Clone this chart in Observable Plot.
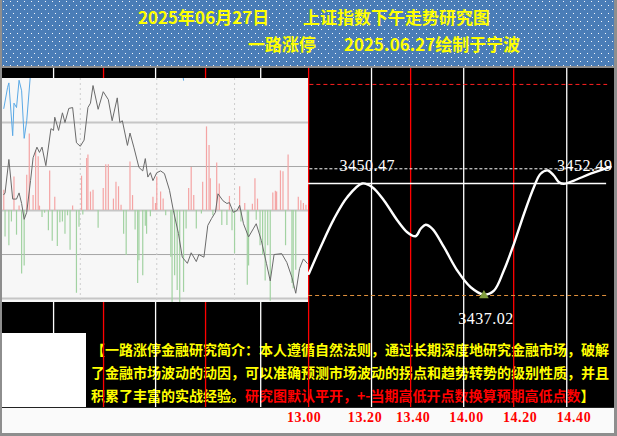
<!DOCTYPE html>
<html><head><meta charset="utf-8">
<script src="https://cdn.jsdelivr.net/npm/d3@7"></script>
<script src="https://cdn.jsdelivr.net/npm/@observablehq/plot@0.6"></script>
<style>
html,body{margin:0;padding:0;background:#000;}
#chart{position:relative;width:617px;height:436px;background:#8e8e8e;overflow:hidden;font-family:"Noto Sans CJK SC",sans-serif;}
#banner{position:absolute;left:2px;top:0;width:612px;height:66px;background-color:#4a7db7;}
.bt{position:absolute;color:#ffff00;font-weight:bold;font-size:17px;line-height:20px;white-space:nowrap;}
#inner{position:absolute;left:2px;top:68px;width:612px;height:365px;background:#000;}
#intro{position:absolute;left:91px;top:338px;font-size:14px;font-weight:bold;line-height:23px;color:#ffff00;white-space:nowrap;z-index:1;}
#intro .r{color:#ff0000;}
#main{position:absolute;left:0;top:68px;width:617px;height:339px;z-index:2;}
#left{position:absolute;left:2px;top:78px;width:306px;height:224px;z-index:3;}
#box{position:absolute;left:2px;top:333px;width:84px;height:74px;background:#fff;z-index:3;}
#stripbg{position:absolute;left:2px;top:407px;width:612px;height:26px;background:#fafafa;border-top:1px solid #222;box-sizing:border-box;z-index:4;}
#strip{position:absolute;left:0;top:407px;width:617px;height:26px;z-index:5;}
#main svg text{letter-spacing:0.5px;}
#strip svg text{letter-spacing:0.6px;}
</style>
</head>
<body>
<div id="chart">
  <div id="banner">
    <div class="bt" style="left:136px;top:7px;">2025年06月27日</div>
    <div class="bt" style="left:301px;top:7px;">上证指数下午走势研究图</div>
    <div class="bt" style="left:246px;top:34px;">一路涨停</div>
    <div class="bt" style="left:342px;top:34px;">2025.06.27绘制于宁波</div>
  </div>
  <div id="inner"></div>
  <div id="intro">【一路涨停金融研究简介：本人遵循自然法则，通过长期深度地研究金融市场，破解<br>了金融市场波动的动因，可以准确预测市场波动的拐点和趋势转势的级别性质，并且<br>积累了丰富的实战经验。<span class="r">研究图默认平开，+-当期高低开点数换算预期高低点数</span>】</div>
  <div id="main"></div>
  <div id="left"></div>
  <div id="box"></div>
  <div id="stripbg"></div>
  <div id="strip"></div>
</div>
<script>
// ---------- data: left intraday panel (minute index 0..240, value relative to previous close) ----------
const priceMin = [1,2,5,8,11,13,15,17,19,22,24,27,29,31,34,38,40,41,44,47,49,52,55,58,61,64,67,69,71,75,79,83,86,90,92,94,98,100,103,107,110,112,114,116,118,121,124,127,131,134,138,141,145,148,152,154,158,161,164,167,169,173,176,178,181,184,186,189,193,197,199,203,207,210,213,219,223,227,230,233,236,239];
const priceVal = [18,20,58,13,13,20,8,-10,-2,34,60,72,66,72,51,93,91,106,91,111,100,116,117,77,73,80,117,122,142,115,135,126,102,128,100,102,74,88,72,49,45,59,38,43,34,43,45,42,23,0,-26,-53,-60,-48,-58,-50,-53,-17,-9,-2,19,11,8,9,-2,0,6,-15,-30,-20,-15,-34,-60,-80,-50,-49,-59,-76,-94,-66,-55,-60];
const blueMin = [1,4,5,8,9,11,13,15,17,19,22];
const blueVal = [116,140,145,85,122,117,148,136,82,102,156];
const blue2Min = [141,142];
const blue2Val = [158,148];
const upMin = [1,9,13,19,21,24,26,28,29,37,41,55,62,66,67,69,71,79,81,83,87,89,91,93,100,102,118,120,121,124,126,146,148,150,157,160,162,163,168,170,178,186,190,196,198,200,212,214,215,218,220,224,232,234,236,238];
const upVal = [23,38,5,40,87,17,68,61,5,45,15,5,39,59,63,21,23,25,52,52,13,32,27,6,55,17,15,8,38,21,13,25,49,17,32,95,74,36,54,30,16,27,8,7,36,13,20,22,21,45,44,63,15,11,8,6];
const downMin = [2,5,7,11,15,17,31,33,36,39,43,45,47,49,51,53,58,60,63,75,95,97,104,106,107,110,112,113,116,128,132,133,135,137,139,142,144,152,156,165,172,176,180,182,187,192,193,199,202,204,206,208,210,222,227,228,230];
const downVal = [-30,-40,-13,-28,-72,-63,-8,-3,-23,-35,-41,-14,-13,-27,-6,-45,-94,-19,-5,-20,-27,-51,-22,-83,-57,-74,-18,-27,-7,-6,-53,-106,-74,-91,-106,-93,-21,-21,-4,-6,-17,-17,-23,-49,-13,-85,-63,-11,-40,-51,-80,-40,-103,-40,-83,-89,-68];
const majorGrid = [100, 0, -100];
const minorGrid = [50, -50];
const sessionMin = [61, 121, 182];

// ---------- data: right forecast panel (minutes after 13:00, index points) ----------
const forecastMin = [0.1,4.6,9.8,14.9,20.7,24.6,29.1,34.3,38.1,41.3,43.3,45.2,47.8,52.3,57.4,62.6,67.7,71.6,75.4,79.3,83.2,87.0,89.6,92.4,94.7,96.7,98.6,102.5,108.9,116.6];
const forecastVal = [3439.53,3442.75,3446.19,3448.81,3450.47,3450.02,3448.41,3445.99,3444.57,3444.08,3444.98,3445.47,3444.98,3442.75,3439.93,3437.90,3437.02,3437.50,3439.93,3443.16,3446.80,3450.02,3451.65,3452.05,3451.44,3450.63,3450.43,3450.83,3451.65,3452.49];
const levelHigh = 3462.47;   // red dashed
const levelEnd = 3452.25;    // white dashed
const levelOpen = 3450.47;   // white solid
const levelLow = 3436.90;    // orange dashed
const gridWhiteMin = [-98.5,-59.1,-18.5,24.3,59.9,99.7];
const gridRedMin = [-79.2,-39.8,0,39.4,79.2];
const timeLabels = ["13.00","13.20","13.40","14.00","14.20","14.40"];
const timeLabelMin = [-1.7,21.8,40.4,61.0,81.7,102.5];
const peakLabel = {t: 20.7, v: 3450.47, text: "3450.47"};
const endLabel = {t: 116.6, v: 3452.49, text: "3452.49"};
const lowLabel = {t: 67.7, v: 3437.02, text: "3437.02"};

// ---------- build ----------
const zip = (a, b) => a.map((x, i) => ({x, y: b[i]}));
const price = zip(priceMin, priceVal);
const blue = zip(blueMin, blueVal);
const blue2 = zip(blue2Min, blue2Val);
const ups = zip(upMin, upVal);
const downs = zip(downMin, downVal);
const forecast = forecastMin.map((t, i) => ({t, v: forecastVal[i]}));
const ticks = timeLabelMin.map((t, i) => ({t, label: timeLabels[i]}));

// banner dot pattern
const dotSvg = "<svg xmlns='http://www.w3.org/2000/svg' width='7' height='8'><rect x='1' y='1' width='1' height='1' fill='#f4f7fb'/><rect x='4' y='5' width='1' height='1' fill='#f4f7fb'/></svg>";
document.getElementById("banner").style.backgroundImage = `url("data:image/svg+xml,${encodeURIComponent(dotSvg)}")`;

const xDomain = [-119, 119.3];
const yDomain = [3423.33, 3464.40];
const numFont = "'Liberation Serif', 'DejaVu Serif', serif";

const main = Plot.plot({
  width: 617, height: 339, margin: 0,
  x: {domain: xDomain, axis: null},
  y: {domain: yDomain, axis: null},
  style: {background: "transparent"},
  marks: [
    Plot.ruleX(gridWhiteMin, {stroke: "#ffffff", strokeWidth: 1.3}),
    Plot.ruleX(gridRedMin, {stroke: "#ff0000", strokeWidth: 1.3}),
    Plot.ruleY([levelHigh], {x1: 0.5, x2: 115.5, stroke: "#ff2020", strokeWidth: 1, strokeDasharray: "4,3"}),
    Plot.ruleY([levelEnd], {x1: 0.5, x2: 117, stroke: "#ffffff", strokeWidth: 1, strokeDasharray: "3,2"}),
    Plot.ruleY([levelOpen], {x1: 0, x2: 115.1, stroke: "#ffffff", strokeWidth: 1.3}),
    Plot.ruleY([levelLow], {x1: 0, x2: 115.1, stroke: "#e0903c", strokeWidth: 1, strokeDasharray: "4,3"}),
    Plot.line(forecast, {x: "t", y: "v", curve: "catmull-rom", stroke: "#ffffff", strokeWidth: 2.4}),
    Plot.dot([lowLabel], {x: "t", y: "v", symbol: "triangle", fill: "#7f9c3e", r: 3.6, dy: 1}),
    Plot.text([peakLabel], {x: "t", y: "v", text: "text", dx: 5, dy: -17.5, fill: "#ffffff", fontSize: 16, fontFamily: numFont}),
    Plot.text([endLabel], {x: "t", y: "v", text: "text", textAnchor: "end", dx: 2, dy: -1, fill: "#ffffff", fontSize: 16, fontFamily: numFont}),
    Plot.text([lowLabel], {x: "t", y: "v", text: "text", dx: 2, dy: 24, fill: "#ffffff", fontSize: 16, fontFamily: numFont})
  ]
});
document.getElementById("main").append(main);

const left = Plot.plot({
  width: 306, height: 224, margin: 0,
  x: {domain: [0, 240], axis: null},
  y: {domain: [-104.5, 150], axis: null},
  style: {background: "#f7f7f7"},
  marks: [
    Plot.ruleY(majorGrid, {stroke: "#c6c6c6", strokeWidth: 2}),
    Plot.ruleY(minorGrid, {stroke: "#a6a6a6", strokeWidth: 1}),
    Plot.ruleX(sessionMin, {stroke: "#cdcdcd", strokeWidth: 1, strokeDasharray: "2,3"}),
    Plot.ruleX(ups, {x: "x", y1: 0, y2: "y", stroke: "#f4a4a4", strokeWidth: 1.2}),
    Plot.ruleX(downs, {x: "x", y1: 0, y2: "y", stroke: "#a2d2a2", strokeWidth: 1.2}),
    Plot.line(blue, {x: "x", y: "y", stroke: "#5aa9e6", strokeWidth: 1}),
    Plot.line(blue2, {x: "x", y: "y", stroke: "#5aa9e6", strokeWidth: 1}),
    Plot.line(price, {x: "x", y: "y", stroke: "#6a6a6a", strokeWidth: 1})
  ]
});
document.getElementById("left").append(left);

const strip = Plot.plot({
  width: 617, height: 26, margin: 0,
  x: {domain: xDomain, axis: null},
  style: {background: "transparent"},
  marks: [
    Plot.text(ticks, {x: "t", text: "label", frameAnchor: "middle", dy: -2.5, fill: "#ff0000", fontSize: 14, fontWeight: "bold", fontFamily: numFont})
  ]
});
document.getElementById("strip").append(strip);
</script>
</body></html>
